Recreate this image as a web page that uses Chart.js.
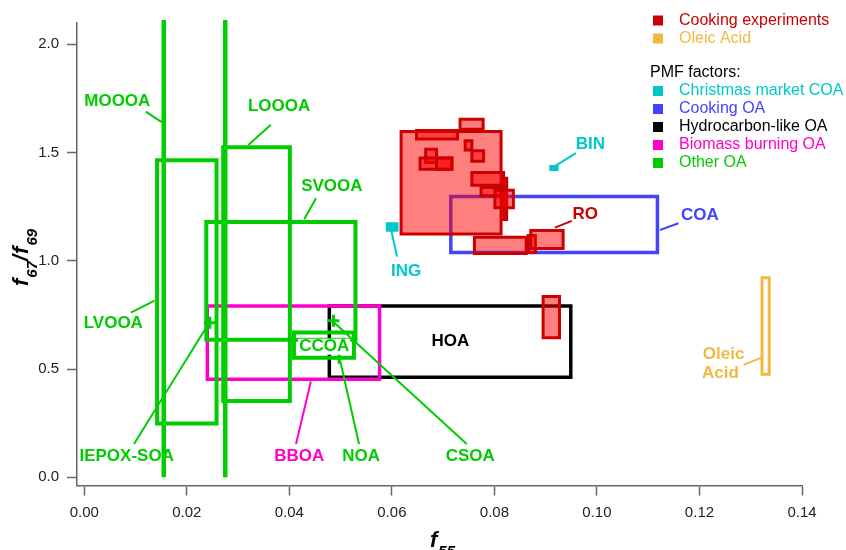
<!DOCTYPE html>
<html>
<head>
<meta charset="utf-8">
<script src="https://cdn.jsdelivr.net/npm/chart.js@4.4.1/dist/chart.umd.min.js"></script>
<style>
  body { margin: 0; background: #fff; }
  canvas { display: block; }
</style>
</head>
<body>
<canvas id="ratioChart" width="846" height="550"></canvas>
<script>
// each box: [f55 low, f55 high, f67/f69 low, f67/f69 high]
const cookingRuns = [
    [0.0618, 0.0813, 1.123, 1.597],
    [0.0733, 0.0778, 1.607, 1.653],
    [0.0648, 0.0728, 1.562, 1.602],
    [0.0743, 0.0756, 1.511, 1.554],
    [0.0756, 0.0779, 1.460, 1.508],
    [0.0666, 0.0687, 1.454, 1.515],
    [0.0655, 0.0717, 1.422, 1.474],
    [0.0687, 0.0717, 1.422, 1.474],
    [0.0756, 0.0818, 1.349, 1.408],
    [0.0818, 0.0824, 1.191, 1.381],
    [0.0774, 0.0818, 1.300, 1.338],
    [0.0801, 0.0837, 1.245, 1.325],
    [0.0761, 0.0862, 1.034, 1.109],
    [0.0866, 0.0880, 1.038, 1.117],
    [0.0871, 0.0934, 1.057, 1.140],
    [0.0895, 0.0927, 0.644, 0.835]
];
const oleicAcid = [[0.1322, 0.1336, 0.476, 0.921]];
const christmasCoa = [[0.0590, 0.0611, 1.139, 1.173], [0.0909, 0.0923, 1.419, 1.438]];
const cookingOa = [[0.0715, 0.1118, 1.038, 1.297]];
const hydrocarbonOa = [[0.0478, 0.0949, 0.462, 0.791]];
const biomassOa = [[0.0240, 0.0576, 0.453, 0.791]];
const otherOaBoxes = [
    [0.0142, 0.0258, 0.248, 1.464],   // LVOOA
    [0.0271, 0.0401, 0.352, 1.524],   // LOOOA
    [0.0238, 0.0529, 0.635, 1.179],   // SVOOA
    [0.0409, 0.0526, 0.552, 0.669]    // CCOA
];
// factors with one f55 value and an open f67/f69 range
const otherOaLines = [[0.0155, 0, 2.112], [0.0275, 0, 2.112]];
// single points: IEPOX-SOA, CSOA, NOA
const otherOaPoints = [[0.0245, 0.714], [0.0486, 0.723], [0.0497, 0.552]];

const xTicks = [0, 0.02, 0.04, 0.06, 0.08, 0.10, 0.12, 0.14];
const yTicks = [0, 0.5, 1.0, 1.5, 2.0];

const RED = '#cc0000', ORANGE = '#f2b840', CYAN = '#00c8c8', BLUE = '#4444ff',
      BLACK = '#000000', MAGENTA = '#ff00cc', GREEN = '#00cc00';

const legendNames = ['Cooking experiments', 'Oleic Acid', 'Christmas market COA', 'Cooking OA',
                     'Hydrocarbon-like OA', 'Biomass burning OA', 'Other OA'];
const legendColors = [RED, ORANGE, CYAN, BLUE, BLACK, MAGENTA, GREEN];

// factor names written in the plot, at [f55, f67/f69]
const tagText = ['MOOOA', 'LOOOA', 'SVOOA', 'LVOOA', 'IEPOX-SOA', 'BBOA', 'NOA', 'CSOA',
                 'CCOA', 'HOA', 'COA', 'RO', 'BIN', 'ING', 'Oleic', 'Acid'];
const tagAt = [[0.00644, 1.735], [0.0380, 1.715], [0.0483, 1.342], [0.00566, 0.711],
               [0.00827, 0.098], [0.04195, 0.098], [0.0540, 0.098], [0.0753, 0.098],
               [0.0468, 0.603], [0.0714, 0.626], [0.1201, 1.212], [0.0977, 1.216],
               [0.0987, 1.538], [0.0628, 0.953], [0.1247, 0.570], [0.1241, 0.482]];
const tagColor = [GREEN, GREEN, GREEN, GREEN, GREEN, MAGENTA, GREEN, GREEN,
                  GREEN, BLACK, BLUE, RED, CYAN, CYAN, ORANGE, ORANGE];

// pointer lines from name to box: [f55 a, ratio a, f55 b, ratio b]
const leaders = [
    [0.0120, 1.689, 0.0151, 1.640], [0.0364, 1.628, 0.0320, 1.535],
    [0.0452, 1.289, 0.0429, 1.192], [0.0091, 0.760, 0.0137, 0.816],
    [0.0097, 0.154, 0.0243, 0.711], [0.0413, 0.154, 0.0442, 0.442],
    [0.0536, 0.154, 0.0498, 0.550], [0.0746, 0.154, 0.0485, 0.719],
    [0.1159, 1.173, 0.1123, 1.142], [0.0951, 1.184, 0.0918, 1.153],
    [0.0959, 1.497, 0.0911, 1.427], [0.0610, 1.019, 0.0598, 1.150],
    [0.1286, 0.519, 0.1322, 0.554]
];
const leaderColors = [GREEN, GREEN, GREEN, GREEN, GREEN, MAGENTA, GREEN, GREEN,
                      BLUE, RED, CYAN, CYAN, ORANGE];

function outline(r)
{
    return [
        { x: r[0], y: r[2] }, { x: r[0], y: r[3] },
        { x: r[1], y: r[3] }, { x: r[1], y: r[2] }, { x: r[0], y: r[2] }
    ];
}

let datasets = [];

function addBoxes(boxes, color, width, fillColor)
{
    boxes.forEach(r => {
        datasets.push({
            data: outline(r),
            showLine: true,
            borderColor: color,
            borderWidth: width,
            backgroundColor: fillColor || 'transparent',
            fill: fillColor ? 'shape' : false,
            pointRadius: 0,
            borderJoinStyle: 'miter',
            borderCapStyle: 'square'
        });
    });
}

// bottom layers first
addBoxes(cookingOa, BLUE, 3.5);
addBoxes(hydrocarbonOa, BLACK, 3.5);
addBoxes(biomassOa, MAGENTA, 3.5);
addBoxes(otherOaBoxes, GREEN, 4);

otherOaLines.forEach(l => {
    datasets.push({
        data: [{ x: l[0], y: l[1] }, { x: l[0], y: l[2] }],
        showLine: true, borderColor: GREEN, borderWidth: 4.5,
        pointRadius: 0, clip: false
    });
});

datasets.push({
    data: otherOaPoints.map(p => ({ x: p[0], y: p[1] })),
    showLine: false, pointStyle: 'cross', pointRadius: 6,
    borderColor: GREEN, pointBorderWidth: 3
});

leaders.forEach((l, i) => {
    datasets.push({
        data: [{ x: l[0], y: l[1] }, { x: l[2], y: l[3] }],
        showLine: true, borderColor: leaderColors[i], borderWidth: 2, pointRadius: 0
    });
});

addBoxes(oleicAcid, ORANGE, 3);
addBoxes(christmasCoa, CYAN, 2, CYAN);
addBoxes(cookingRuns, RED, 3, 'rgba(255, 0, 0, 0.5)');

// keep the push order as the drawing order
datasets.forEach((d, i) => { d.order = -i; });

const FONT = 'Liberation Sans';

function drawRich(ctx, parts, x, y)
{
    parts.forEach(p => {
        ctx.font = p.sub ? 'bold italic 15px "' + FONT + '"' : 'bold italic 22px "' + FONT + '"';
        ctx.fillText(p.t, x, y + (p.sub ? 9 : 0));
        x += ctx.measureText(p.t).width + (p.sub ? 0 : 1);
    });
}

const annotations = {
    id: 'annotations',
    afterDatasetsDraw(chart)
    {
        const ctx = chart.ctx;
        const xs = chart.scales.x, ys = chart.scales.y;
        ctx.save();
        ctx.font = 'bold 17px "' + FONT + '"';
        ctx.textAlign = 'center';
        ctx.textBaseline = 'middle';
        tagText.forEach((t, i) => {
            const px = xs.getPixelForValue(tagAt[i][0]);
            const py = ys.getPixelForValue(tagAt[i][1]);
            if (t === 'CCOA') {
                const w = ctx.measureText(t).width;
                ctx.fillStyle = '#fff';
                ctx.fillRect(px - w / 2 - 1, py - 8, w + 2, 16);
            }
            ctx.fillStyle = tagColor[i];
            ctx.fillText(t, px, py);
        });
        ctx.restore();
    },
    afterDraw(chart)
    {
        const ctx = chart.ctx;
        ctx.save();

        // legend
        ctx.font = '16px "' + FONT + '"';
        ctx.textAlign = 'left';
        ctx.textBaseline = 'middle';
        legendNames.forEach((name, i) => {
            const y = i < 2 ? 20.5 + i * 18 : 91 + (i - 2) * 18;
            ctx.fillStyle = legendColors[i];
            ctx.fillRect(653, y - 5, 10, 10);
            ctx.fillText(name, 679, y);
        });
        ctx.fillStyle = '#000';
        ctx.fillText('PMF factors:', 650, 73);

        // axis titles
        ctx.textBaseline = 'alphabetic';
        ctx.fillStyle = '#000';
        drawRich(ctx, [{ t: 'f' }, { t: '55', sub: true }], 430, 547);
        ctx.translate(28, 286);
        ctx.rotate(-Math.PI / 2);
        drawRich(ctx, [{ t: 'f' }, { t: '67', sub: true }, { t: '/' }, { t: 'f' }, { t: '69', sub: true }], 0, 0);
        ctx.restore();
    }
};

const axisGrey = '#666';

new Chart(document.getElementById('ratioChart'), {
    type: 'scatter',
    data: { datasets: datasets },
    options: {
        responsive: false,
        animation: false,
        events: [],
        layout: { padding: { left: 0, top: 23, right: 44, bottom: 0 } },
        plugins: {
            legend: { display: false },
            tooltip: { enabled: false }
        },
        elements: { point: { radius: 0 } },
        scales: {
            x: {
                type: 'linear',
                min: -0.00142,
                max: 0.14,
                afterFit: (s) => { s.height = 64.5; },
                afterBuildTicks: (s) => { s.ticks = xTicks.map(v => ({ value: v })); },
                ticks: {
                    autoSkip: false,
                    maxRotation: 0,
                    padding: 8,
                    color: '#222',
                    font: { family: FONT, size: 15 },
                    callback: (v) => Number(v).toFixed(2)
                },
                grid: { drawOnChartArea: false, tickLength: 10, tickColor: axisGrey, tickWidth: 1.5 },
                border: { color: axisGrey, width: 1.5 }
            },
            y: {
                type: 'linear',
                min: -0.038,
                max: 2.098,
                afterFit: (s) => { s.width = 77; },
                afterBuildTicks: (s) => { s.ticks = yTicks.map(v => ({ value: v })); },
                ticks: {
                    padding: 8,
                    color: '#222',
                    font: { family: FONT, size: 15 },
                    callback: (v) => Number(v).toFixed(1)
                },
                grid: { drawOnChartArea: false, tickLength: 10, tickColor: axisGrey, tickWidth: 1.5 },
                border: { color: axisGrey, width: 1.5 }
            }
        }
    },
    plugins: [annotations]
});
</script>
</body>
</html>
